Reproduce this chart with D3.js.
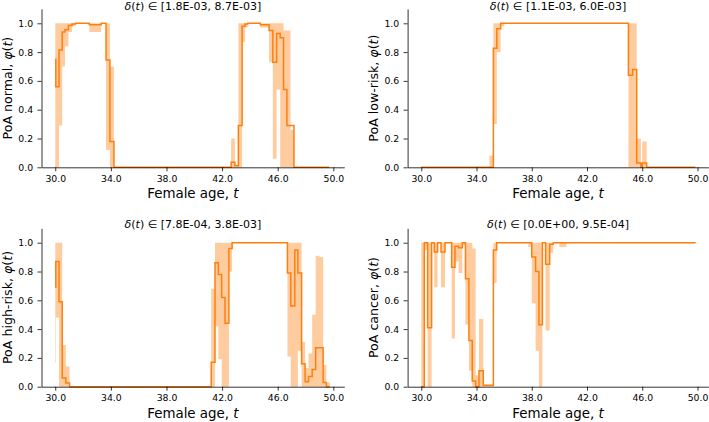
<!DOCTYPE html>
<html><head><meta charset="utf-8">
<script src="https://cdn.jsdelivr.net/npm/d3@7"></script>
<style>
body{margin:0;background:#fff}
svg{display:block}
text{font-family:"DejaVu Sans",sans-serif;fill:#000}
</style>
</head><body>
<svg id="chart" width="709" height="422"></svg>
<script>
// ---------------- data ----------------
const xTicks = [30, 34, 38, 42, 46, 50];
const yTicks = [0.0, 0.2, 0.4, 0.6, 0.8, 1.0];
const yLabelNames = ["PoA normal, ", "PoA low-risk, ", "PoA high-risk, ", "PoA cancer, "];
const titleRanges = ["[1.8E-03, 8.7E-03]", "[1.1E-03, 6.0E-03]", "[7.8E-04, 3.8E-03]", "[0.0E+00, 9.5E-04]"];

// PoA normal
const normalT   = [30.00, 30.04, 30.27, 30.50, 30.70, 30.95, 31.20, 31.45, 32.45, 33.30, 33.65, 33.93, 34.22, 42.65, 42.92, 43.17, 43.44, 43.65, 43.85, 44.75, 45.38, 45.65, 45.92, 46.18, 46.42, 46.66, 46.92, 47.17];
const normalPhi = [0.75, 0.56, 0.815, 0.94, 0.955, 0.985, 0.995, 1.0, 0.99, 1.0, 0.745, 0.18, 0.0, 0.035, 0.01, 0.29, 0.98, 0.995, 1.0, 0.99, 0.95, 0.73, 0.93, 0.90, 0.54, 0.29, 0.29, 0.0];
const normalLo  = [0.0, 0.0, 0.29, 0.70, 0.84, 0.94, 0.98, 1.0, 0.94, 1.0, 0.12, 0.0, 0.0, 0.0, 0.0, 0.0, 0.87, 0.97, 1.0, 0.97, 0.73, 0.06, 0.54, 0.0, 0.0, 0.0, 0.0, 0.0];
const normalHi  = [1.0, 1.0, 1.0, 1.0, 1.0, 1.0, 1.0, 1.0, 1.0, 1.0, 1.0, 0.70, 0.0, 0.2, 0.02, 1.0, 1.0, 1.0, 1.0, 1.0, 1.0, 1.0, 1.0, 1.0, 0.95, 0.95, 0.26, 0.0];
const normalEnd = 49.7;

// PoA low-risk
const lowT   = [30.0, 34.93, 35.22, 35.47, 35.75, 36.0, 45.0, 45.3, 45.6, 45.9, 46.0, 46.32];
const lowPhi = [0, 0, 0.826, 0.963, 1.0, 1.0, 0.64, 0.68, 0.03, 0.0, 0.03, 0];
const lowLo  = [0, 0, 0.30, 0.80, 0.98, 1.0, 0, 0, 0, 0, 0, 0];
const lowHi  = [0, 0.08, 1.0, 1.0, 1.0, 1.0, 1.0, 1.0, 0.2, 0.0, 0.18, 0];
const lowEnd = 49.85;

// PoA high-risk
const highT   = [30.0, 30.04, 30.27, 30.50, 30.76, 31.03, 41.22, 41.49, 41.73, 41.97, 42.21, 42.49, 42.72, 46.70, 46.94, 47.23, 47.45, 47.72, 47.97, 48.22, 48.48, 48.73, 49.0, 49.27, 49.5];
const highPhi = [0.69, 0.87, 0.59, 0.06, 0.025, 0, 0.17, 0.86, 0.78, 0.62, 0.44, 0.96, 1.0, 0.79, 0.56, 0.95, 0.79, 0.16, 0.035, 0.07, 0.12, 0.27, 0.27, 0.03, 0.0];
const highLo  = [0.17, 0.48, 0.0, 0.0, 0.0, 0, 0.0, 0.42, 0.19, 0.0, 0.0, 0.80, 1.0, 0.21, 0.0, 0.0, 0.25, 0.0, 0.0, 0.0, 0.0, 0.0, 0.0, 0.0, 0.0];
const highHi  = [1.0, 1.0, 1.0, 0.29, 0.14, 0, 0.68, 1.0, 1.0, 1.0, 1.0, 1.0, 1.0, 1.0, 1.0, 1.0, 1.0, 0.31, 0.13, 0.23, 0.5, 0.91, 0.9, 0.15, 0.03];
const highEnd = 49.75;

// PoA cancer
const cancerT   = [30.0, 30.22, 30.46, 30.75, 30.94, 31.18, 31.43, 31.72, 32.20, 32.44, 32.70, 32.97, 33.20, 33.45, 33.69, 33.94, 34.18, 34.49, 35.22, 35.46, 37.75, 38.0, 38.28, 38.52, 38.77, 39.0, 39.3, 39.55, 40.0, 40.5];
const cancerPhi = [0, 1.0, 0.41, 1.0, 0.935, 1.0, 0.935, 1.0, 0.83, 0.975, 0.965, 1.0, 0.75, 0.32, 0.04, 0.0, 0.11, 0.01, 0.95, 1.0, 1.0, 0.9, 0.8, 0.43, 1.0, 0.85, 0.99, 1.0, 1.0, 1.0];
const cancerLo  = [0, 0.95, 0, 1.0, 0.69, 1.0, 0.69, 1.0, 0.335, 0.87, 0.79, 0.98, 0.43, 0.11, 0, 0, 0, 0, 0.72, 1.0, 0.97, 0.58, 0.25, 0, 1.0, 0.39, 0.93, 1.0, 0.97, 1.0];
const cancerHi  = [1.0, 1.0, 1.0, 1.0, 1.0, 1.0, 1.0, 1.0, 1.0, 1.0, 1.0, 1.0, 1.0, 1.0, 0.96, 0.08, 0.47, 0.01, 1.0, 1.0, 1.0, 1.0, 1.0, 1.0, 1.0, 1.0, 1.0, 1.0, 1.0, 1.0];
const cancerEnd = 49.87;

// ---------------- layout ----------------
const series = [
  {T: normalT, phi: normalPhi, lo: normalLo, hi: normalHi, end: normalEnd},
  {T: lowT, phi: lowPhi, lo: lowLo, hi: lowHi, end: lowEnd},
  {T: highT, phi: highPhi, lo: highLo, hi: highHi, end: highEnd},
  {T: cancerT, phi: cancerPhi, lo: cancerLo, hi: cancerHi, end: cancerEnd}
];
const frames = [
  {x0: 41.5, x1: 344.3, yb: 167.3, ty: 10.2},
  {x0: 407.6, x1: 708.4, yb: 167.3, ty: 10.2},
  {x0: 41.5, x1: 344.3, yb: 386.7, ty: 227.5},
  {x0: 407.6, x1: 708.4, yb: 386.7, ty: 227.5}
];
const ORANGE = "#ff7f0e";
const svg = d3.select("#chart");

series.forEach((s, i) => {
  const f = frames[i];
  const x = d3.scaleLinear().domain([29.01, 50.79]).range([f.x0, f.x1]);
  const y = d3.scaleLinear().domain([0, 1.1]).range([f.yb, f.yb - 158.4]);
  const pts = s.T.map((t, k) => ({t: t, phi: s.phi[k], lo: s.lo[k], hi: s.hi[k]}));
  const last = pts[pts.length - 1];
  pts.push({t: s.end, phi: last.phi, lo: last.lo, hi: last.hi});

  const g = svg.append("g");
  g.append("path")
    .attr("d", d3.area().curve(d3.curveStepAfter).x(d => x(d.t)).y0(d => y(d.lo)).y1(d => y(d.hi))(pts))
    .attr("fill", ORANGE).attr("fill-opacity", 0.4).attr("stroke", "none");
  g.append("path")
    .attr("d", d3.line().curve(d3.curveStepAfter).x(d => x(d.t)).y(d => y(d.phi))(pts))
    .attr("fill", "none").attr("stroke", ORANGE).attr("stroke-width", 1.5);

  const xa = g.append("g").attr("transform", `translate(0,${f.yb})`)
    .call(d3.axisBottom(x).tickValues(xTicks).tickFormat(d3.format(".1f")).tickSize(4).tickPadding(3.7).tickSizeOuter(0));
  const ya = g.append("g").attr("transform", `translate(${f.x0},0)`)
    .call(d3.axisLeft(y).tickValues(yTicks).tickFormat(d3.format(".1f")).tickSize(4).tickPadding(4.4).tickSizeOuter(0));
  [xa, ya].forEach(a => {
    a.attr("font-family", null).attr("font-size", null);
    a.selectAll("text").style("font-size", "9.3px");
    a.selectAll("line").attr("stroke", "#000").attr("stroke-width", 0.8);
    a.select(".domain").attr("stroke", "#000").attr("stroke-width", 0.8);
  });

  // x label
  const xl = g.append("text").attr("x", (f.x0 + f.x1) / 2).attr("y", f.yb + 31)
    .attr("text-anchor", "middle").style("font-size", "13.4px");
  xl.append("tspan").text("Female age, ");
  xl.append("tspan").style("font-style", "italic").text("t");

  // y label
  const yl = g.append("text")
    .attr("transform", `translate(${f.x0 - 29.3},${f.yb - 79.2}) rotate(-90)`)
    .attr("text-anchor", "middle").style("font-size", "12.6px");
  yl.append("tspan").text(yLabelNames[i]);
  yl.append("tspan").style("font-style", "italic").text("\u03C6");
  yl.append("tspan").text("(");
  yl.append("tspan").style("font-style", "italic").text("t");
  yl.append("tspan").text(")");

  // title
  const tt = g.append("text").attr("x", (f.x0 + f.x1) / 2).attr("y", f.ty)
    .attr("text-anchor", "middle").style("font-size", "11px");
  tt.append("tspan").style("font-style", "italic").text("\u03B4");
  tt.append("tspan").text("(");
  tt.append("tspan").style("font-style", "italic").text("t");
  tt.append("tspan").text(") \u2208 " + titleRanges[i]);
});
</script>
</body></html>
